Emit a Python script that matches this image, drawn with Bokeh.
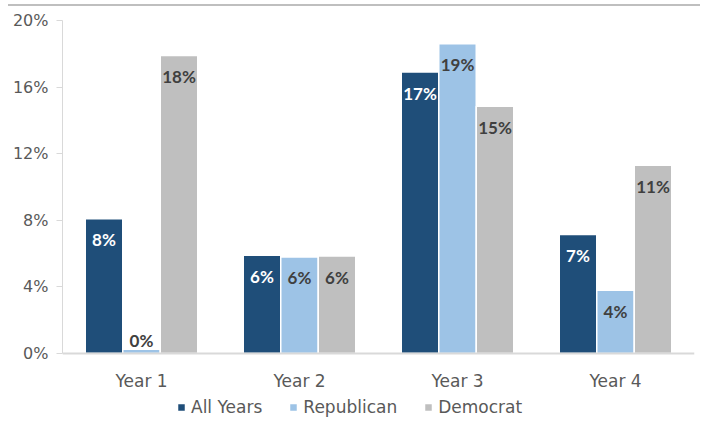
import numpy as np
from bokeh.plotting import figure
from bokeh.models import (Range1d, FixedTicker, PrintfTickFormatter, Legend, LegendItem,
                          ColumnDataSource, Div)
from bokeh.layouts import column
from bokeh.core.properties import value
from bokeh.embed import file_html
from bokeh.resources import INLINE

categories = ["Year 1", "Year 2", "Year 3", "Year 4"]
series_names = ["All Years", "Republican", "Democrat"]
all_years = [8.1, 5.9, 16.9, 7.15]
republican = [0.25, 5.8, 18.6, 3.8]
democrat = [17.9, 5.85, 14.85, 11.3]
y_ticks = [0, 4, 8, 12, 16, 20]

colors = ["#1f4e79", "#9dc3e6", "#bfbfbf"]
label_colors = ["#ffffff", "#404040", "#404040"]
AXIS_FONT = "DejaVu Sans"

# frame extends below the zero line so that the legend sits inside it
p = figure(frame_width=632, frame_height=398,
           min_border_left=62, min_border_right=10, min_border_top=13, min_border_bottom=0,
           x_range=Range1d(-0.5, 3.5), y_range=Range1d(-3.904, 20),
           output_backend="svg", toolbar_location=None)

bar_w = 0.2373
offsets = [-bar_w, 0.0, bar_w]
xs = np.arange(len(categories))

renderers = []
for i, (name, vals) in enumerate(zip(series_names, [all_years, republican, democrat])):
    src = ColumnDataSource(dict(
        x=xs + offsets[i],
        top=vals,
        label=[f"{round(v)}%" for v in vals],
        yoff=[21 if v > 2 else -9 for v in vals],
    ))
    r = p.vbar(x="x", top="top", bottom=0, width=bar_w, source=src,
               fill_color=colors[i], line_color="white", line_width=1.5)
    renderers.append(r)
    p.text(x="x", y="top", text="label", source=src, y_offset="yoff",
           text_align="center", text_baseline="alphabetic",
           text_font=value("Lato"), text_font_style="bold", text_font_size="17px",
           text_color=label_colors[i])

# axes
p.xaxis.fixed_location = 0
p.xaxis.ticker = FixedTicker(ticks=list(range(len(categories))))
p.xaxis.major_label_overrides = {i: c for i, c in enumerate(categories)}
p.xaxis.major_tick_line_color = None
p.xaxis.minor_tick_line_color = None
p.xaxis.axis_line_color = "#d9d9d9"
p.xaxis.axis_line_width = 2
p.xaxis.major_label_standoff = 12
p.xaxis.major_label_text_font = AXIS_FONT
p.xaxis.major_label_text_font_size = "17px"
p.xaxis.major_label_text_color = "#595959"

p.yaxis.bounds = (0, 20)
p.yaxis.ticker = FixedTicker(ticks=y_ticks)
p.yaxis.formatter = PrintfTickFormatter(format="%d%%")
p.yaxis.axis_line_color = "#d9d9d9"
p.yaxis.major_tick_line_color = "#d9d9d9"
p.yaxis.major_tick_out = 6
p.yaxis.major_tick_in = 0
p.yaxis.minor_tick_line_color = None
p.yaxis.major_label_standoff = 8
p.yaxis.major_label_text_font = AXIS_FONT
p.yaxis.major_label_text_font_size = "16px"
p.yaxis.major_label_text_color = "#595959"

p.xgrid.grid_line_color = None
p.ygrid.grid_line_color = None
p.outline_line_color = None

legend = Legend(items=[LegendItem(label=n, renderers=[r]) for n, r in zip(series_names, renderers)],
                orientation="horizontal", location=(114, 1),
                glyph_width=10, glyph_height=10, label_standoff=5, spacing=26,
                padding=0, margin=0, border_line_alpha=0, background_fill_alpha=0,
                label_text_font=AXIS_FONT, label_text_font_size="17px",
                label_text_color="#595959", label_height=20)
p.add_layout(legend, "center")

top_rule = Div(text="", width=692, height=2, margin=(4, 4, 1, 8),
               styles={"background-color": "#bfbfbf"})

layout = column(top_rule, p, spacing=0)

open("out.html", "w").write(file_html(layout, INLINE))
